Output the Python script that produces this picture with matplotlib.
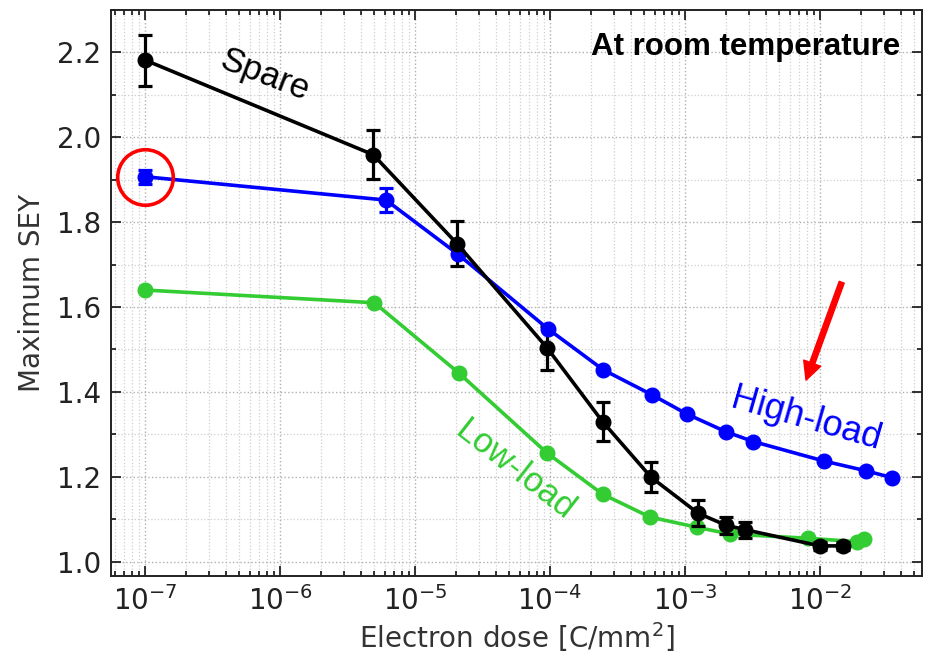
import matplotlib
matplotlib.use("Agg")
import matplotlib.pyplot as plt
from matplotlib.ticker import FixedLocator, LogLocator, MultipleLocator, NullFormatter

# Maximum secondary electron yield versus accumulated electron dose
spare_dose = [1.0e-7, 4.9e-6, 2.05e-5, 9.5e-5, 2.45e-4, 5.6e-4, 1.25e-3, 2.0e-3, 2.8e-3, 1.0e-2, 1.48e-2]
spare_sey = [2.182, 1.959, 1.749, 1.504, 1.330, 1.199, 1.114, 1.086, 1.075, 1.037, 1.037]
spare_err = [0.060, 0.058, 0.053, 0.052, 0.045, 0.036, 0.030, 0.020, 0.019, 0.010, 0.010]

high_dose = [1.0e-7, 6.1e-6, 2.07e-5, 9.7e-5, 2.48e-4, 5.7e-4, 1.03e-3, 2.01e-3, 3.2e-3, 1.07e-2, 2.19e-2, 3.4e-2]
high_sey = [1.907, 1.852, 1.725, 1.548, 1.452, 1.393, 1.348, 1.306, 1.283, 1.237, 1.214, 1.198]
high_err = [0.017, 0.028, 0.0, 0.0, 0.0, 0.0, 0.0, 0.0, 0.0, 0.0, 0.0, 0.0]

low_dose = [1.0e-7, 5.0e-6, 2.1e-5, 9.5e-5, 2.45e-4, 5.5e-4, 1.22e-3, 2.15e-3, 8.1e-3, 1.87e-2, 2.12e-2]
low_sey = [1.640, 1.610, 1.445, 1.256, 1.159, 1.105, 1.081, 1.065, 1.055, 1.047, 1.053]

dose_ticks = [1e-7, 1e-6, 1e-5, 1e-4, 1e-3, 1e-2]

BLUE = "#0000ff"
GREEN = "#33cc33"
RED = "#ff0000"

fig = plt.figure(figsize=(9.3, 6.53), dpi=100)
ax = fig.add_axes([0.1194, 0.1179, 0.8720, 0.8668])

line_kw = dict(lw=2.6, marker="o", ms=10.5, zorder=3)
err_kw = dict(elinewidth=2.3, capsize=5, capthick=2.3)

ax.plot(low_dose, low_sey, color=GREEN, **line_kw)
ax.errorbar(high_dose, high_sey, yerr=high_err, color=BLUE, **line_kw, **err_kw)
ax.errorbar(spare_dose, spare_sey, yerr=spare_err, color="black", **line_kw, **err_kw)

# highlight the first high-load measurement
ax.plot([high_dose[0]], [high_sey[0]], marker="o", ms=40, mfc="none",
        mec=RED, mew=2.6, zorder=4)

ax.set_xscale("log")
ax.set_xlim(10 ** -7.252, 10 ** -1.244)
ax.set_ylim(0.966, 2.30)

ax.xaxis.set_major_locator(FixedLocator(dose_ticks))
ax.xaxis.set_minor_locator(LogLocator(base=10, subs=range(2, 10), numticks=100))
ax.xaxis.set_minor_formatter(NullFormatter())
ax.yaxis.set_major_locator(MultipleLocator(0.2))
ax.yaxis.set_minor_locator(MultipleLocator(0.1))
ax.yaxis.set_major_formatter(plt.FuncFormatter(lambda v, p: f"{v:.1f}"))

ax.tick_params(which="both", direction="in", top=True, right=True, width=1.3,
               colors="#222222", labelcolor="#222222")
ax.tick_params(which="major", length=7, labelsize=20, pad=7)
ax.tick_params(which="minor", length=3.5)
for s in ax.spines.values():
    s.set_linewidth(1.4)
    s.set_color("#222222")

ax.grid(which="major", linestyle=":", color="#b0b0b0", lw=1.0)
ax.grid(which="minor", linestyle=":", color="#cfcfcf", lw=0.9)
ax.set_axisbelow(True)

ax.set_xlabel("Electron dose [C/mm$^2$]", fontsize=20, color="#333333", labelpad=3)
ax.set_ylabel("Maximum SEY", fontsize=20, color="#333333", labelpad=8)

ann = dict(family="Liberation Sans", transform=ax.transAxes, ha="center", va="center")
ax.text(0.190, 0.885, "Spare", fontsize=25, rotation=-21, color="black", **ann)
ax.text(0.857, 0.276, "High-load", fontsize=26, rotation=-16, color=BLUE, **ann)
ax.text(0.498, 0.187, "Low-load", fontsize=25, rotation=-38, color=GREEN, **ann)
ax.text(0.973, 0.935, "At room temperature", fontsize=22.5, fontweight="bold",
        family="Liberation Sans", transform=ax.transAxes, ha="right", va="center")

ax.annotate("", xy=(0.857, 0.346), xycoords="axes fraction",
            xytext=(0.901, 0.519), textcoords="axes fraction",
            arrowprops=dict(facecolor=RED, edgecolor=RED, width=3.8,
                            headwidth=13, headlength=13))

fig.savefig("out.png", dpi=100)
